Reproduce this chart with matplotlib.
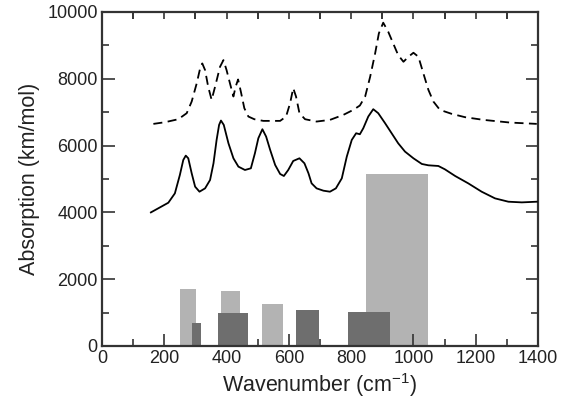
import matplotlib
matplotlib.use("Agg")
import matplotlib.pyplot as plt
from matplotlib.ticker import MultipleLocator

# Computed spectrum (solid)
solid_x = [157, 186, 213, 234, 250, 261, 269, 277, 288, 299, 313, 331, 347, 358, 368, 376,
           382, 391, 406, 422, 438, 459, 478, 491, 502, 515, 527, 540, 556, 572, 584, 598,
           614, 634, 650, 663, 673, 689, 711, 732, 751, 770, 786, 802, 816, 828, 839, 855,
           871, 887, 909, 930, 951, 973, 1000, 1027, 1048, 1080, 1101, 1134, 1176, 1219,
           1262, 1305, 1348, 1396]
solid_y = [4000, 4150, 4290, 4570, 5120, 5570, 5700, 5620, 5170, 4770, 4620, 4720, 4970, 5470, 6170, 6620,
           6750, 6620, 6070, 5620, 5370, 5270, 5320, 5770, 6220, 6490, 6270, 5870, 5420, 5150, 5090, 5270,
           5540, 5620, 5470, 5170, 4870, 4720, 4650, 4620, 4720, 5020, 5670, 6170, 6370, 6340, 6520, 6870,
           7090, 6970, 6670, 6370, 6070, 5820, 5620, 5450, 5410, 5390, 5290, 5090, 4870, 4620,
           4420, 4320, 4300, 4320]

# Second spectrum (dashed)
dash_x = [165, 202, 245, 272, 288, 304, 315, 322, 331, 341, 352, 363, 379, 390, 400, 411,
          422, 429, 437, 446, 457, 470, 489, 518, 572, 591, 604, 614, 623, 634, 652, 689,
          732, 775, 807, 828, 845, 861, 877, 889, 903, 919, 935, 951, 968, 984, 1000,
          1016, 1032, 1048, 1064, 1085, 1123, 1166, 1225, 1310, 1396]
dash_y = [6650, 6700, 6790, 6970, 7320, 7860, 8310, 8460, 8260, 7760, 7370, 7760, 8360, 8560, 8260, 7860,
          7470, 7760, 7980, 7610, 7120, 6870, 6790, 6740, 6740, 6870, 7270, 7720, 7470, 6970, 6790, 6720,
          6770, 6920, 7070, 7200, 7470, 8060, 8760, 9360, 9680, 9410, 9060, 8710, 8510, 8660, 8780,
          8660, 8160, 7670, 7320, 7070, 6950, 6850, 6770, 6690, 6650]

# Light gray bars (left edge, right edge, height)
light_left = [250, 381, 513, 848]
light_right = [301, 443, 581, 1048]
light_height = [1710, 1660, 1250, 5150]

# Dark gray bars
dark_left = [288, 373, 624, 791]
dark_right = [319, 468, 697, 925]
dark_height = [680, 1000, 1090, 1030]

plt.rcParams['font.family'] = ['Liberation Sans', 'DejaVu Sans']
plt.rcParams['mathtext.fontset'] = 'custom'
plt.rcParams['mathtext.rm'] = 'Liberation Sans'
plt.rcParams['mathtext.it'] = 'Liberation Sans'

fig = plt.figure(figsize=(5.69, 4.07), dpi=100)
ax = fig.add_axes([102/569, 1-346/407, 436/569, 334/407])

ax.bar(light_left, light_height, width=[r - l for l, r in zip(light_left, light_right)],
       align='edge', color='#b3b3b3', linewidth=0, zorder=1)
ax.bar(dark_left, dark_height, width=[r - l for l, r in zip(dark_left, dark_right)],
       align='edge', color='#6e6e6e', linewidth=0, zorder=2)

ax.plot(solid_x, solid_y, color='black', lw=1.3, zorder=3, solid_joinstyle='round')
ax.plot(dash_x, dash_y, color='black', lw=1.3, ls=(0, (5, 3)), zorder=3)

ax.set_xlim(0, 1400)
ax.set_ylim(0, 10000)
ax.xaxis.set_major_locator(MultipleLocator(200))
ax.xaxis.set_minor_locator(MultipleLocator(100))
ax.yaxis.set_major_locator(MultipleLocator(2000))
ax.yaxis.set_minor_locator(MultipleLocator(1000))

ax.tick_params(which='both', direction='in', top=True, right=True, colors='#333333',
               labelcolor='#222222', labelsize=13, width=1.2)
ax.tick_params(which='major', length=9, pad=3)
ax.tick_params(which='minor', length=5)
ax.tick_params(axis='x', which='major', top=False)
for s in ax.spines.values():
    s.set_linewidth(1.6)
    s.set_color('#333333')

# top axis: all ticks at every 100, short
secx = ax.secondary_xaxis('top')
secx.xaxis.set_major_locator(MultipleLocator(100))
secx.tick_params(direction='in', length=5, width=1.2, colors='#333333', labeltop=False)
secx.spines['top'].set_visible(False)

ax.set_xlabel('Wavenumber (cm$^{\\mathregular{-1}}$)', fontsize=15.5, color='#222222', labelpad=3)
ax.set_ylabel('Absorption (km/mol)', fontsize=15.5, color='#222222', labelpad=5)

fig.savefig('out.png', dpi=100)
